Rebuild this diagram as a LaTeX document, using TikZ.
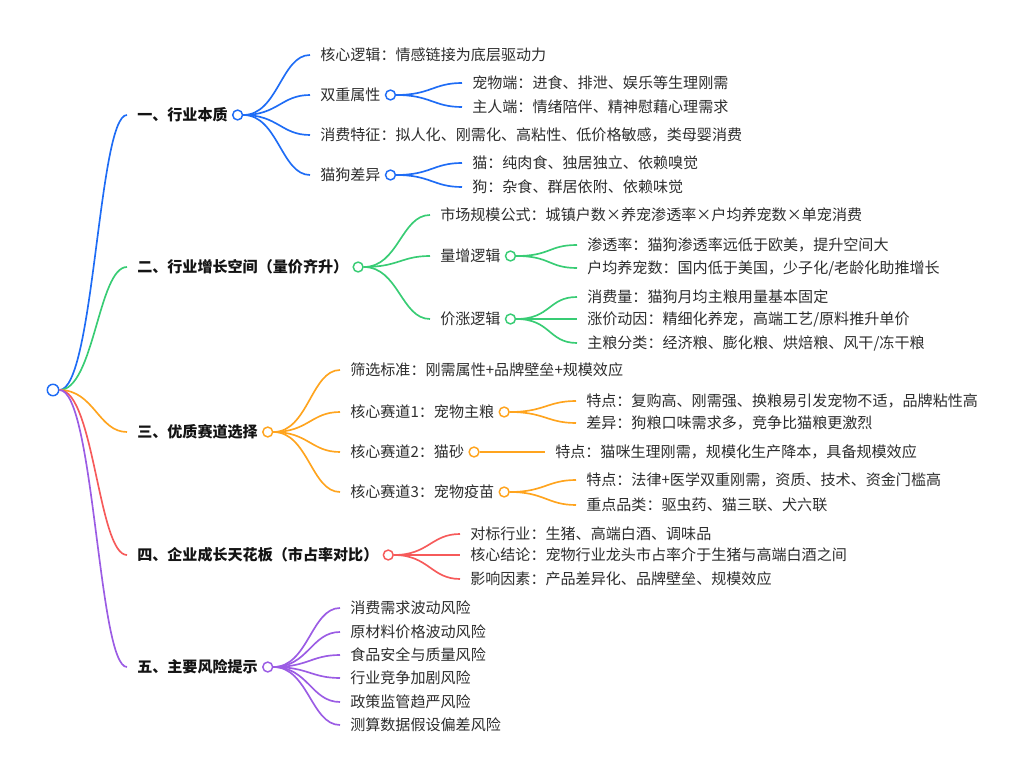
\documentclass[tikz,border=0pt]{standalone}
\usepackage{fontspec}
\setmainfont{Noto Sans CJK SC}
\usetikzlibrary{positioning}

\definecolor{cblue}{RGB}{30,108,245}
\definecolor{cgreen}{RGB}{56,204,116}
\definecolor{corange}{RGB}{255,164,30}
\definecolor{cred}{RGB}{246,90,90}
\definecolor{cpurple}{RGB}{155,92,228}
\definecolor{ink}{RGB}{45,45,45}

\begin{document}
\begin{tikzpicture}[
    x=0.75pt, y=-0.75pt,
    font=\fontsize{11.3pt}{13pt}\selectfont,
    txt/.style={anchor=west, inner xsep=3pt, inner ysep=2pt, text=ink},
    head/.style={txt, font=\fontsize{11.3pt}{13pt}\selectfont\bfseries, text=black!92},
    dot/.style={circle, draw=#1, fill=white, line width=1.1pt, minimum size=7.4pt, inner sep=0pt},
    link/.style={draw=#1, line width=1.25pt, shorten >=4.5pt,
        to path={.. controls ([xshift=26pt]\tikztostart) and ([xshift=-26pt]\tikztotarget) .. (\tikztotarget)}},
]
\useasboundingbox (0,0) rectangle (1024,780);

% root
\node[dot=cblue, minimum size=8.6pt] (root) at (53,390) {};

% level 1
\node[head] (h1) at (133,115) {一、行业本质};
\node[dot=cblue, right=0pt of h1] (d1) {};
\node[head] (h2) at (133,267) {二、行业增长空间（量价齐升）};
\node[dot=cgreen, right=0pt of h2] (d2) {};
\node[head] (h3) at (133,432) {三、优质赛道选择};
\node[dot=corange, right=0pt of h3] (d3) {};
\node[head] (h4) at (133,555) {四、企业成长天花板（市占率对比）};
\node[dot=cred, right=0pt of h4] (d4) {};
\node[head] (h5) at (133,667) {五、主要风险提示};
\node[dot=cpurple, right=0pt of h5] (d5) {};

% 一
\node[txt] (a1) at (316,55) {核心逻辑：情感链接为底层驱动力};
\node[txt] (a2) at (316,95) {双重属性};
\node[dot=cblue, right=0pt of a2] (a2d) {};
\node[txt] (a3) at (316,135) {消费特征：拟人化、刚需化、高粘性、低价格敏感，类母婴消费};
\node[txt] (a4) at (316,175) {猫狗差异};
\node[dot=cblue, right=0pt of a4] (a4d) {};
\node[txt] (a21) at (468,83) {宠物端：进食、排泄、娱乐等生理刚需};
\node[txt] (a22) at (468,107) {主人端：情绪陪伴、精神慰藉心理需求};
\node[txt] (a41) at (468,163) {猫：纯肉食、独居独立、依赖嗅觉};
\node[txt] (a42) at (468,187) {狗：杂食、群居依附、依赖味觉};

% 二
\node[txt] (b1) at (436,215) {市场规模公式：城镇户数×养宠渗透率×户均养宠数×单宠消费};
\node[txt] (b2) at (436,256) {量增逻辑};
\node[dot=cgreen, right=0pt of b2] (b2d) {};
\node[txt] (b3) at (436,319) {价涨逻辑};
\node[dot=cgreen, right=0pt of b3] (b3d) {};
\node[txt] (b21) at (583,245) {渗透率：猫狗渗透率远低于欧美，提升空间大};
\node[txt] (b22) at (583,268) {户均养宠数：国内低于美国，少子化/老龄化助推增长};
\node[txt] (b31) at (583,297) {消费量：猫狗月均主粮用量基本固定};
\node[txt] (b32) at (583,319) {涨价动因：精细化养宠，高端工艺/原料推升单价};
\node[txt] (b33) at (583,343) {主粮分类：经济粮、膨化粮、烘焙粮、风干/冻干粮};

% 三
\node[txt] (c1) at (346,370) {筛选标准：刚需属性+品牌壁垒+规模效应};
\node[txt] (c2) at (346,412) {核心赛道1：宠物主粮};
\node[dot=corange, right=0pt of c2] (c2d) {};
\node[txt] (c3) at (346,452) {核心赛道2：猫砂};
\node[dot=corange, right=0pt of c3] (c3d) {};
\node[txt] (c4) at (346,492) {核心赛道3：宠物疫苗};
\node[dot=corange, right=0pt of c4] (c4d) {};
\node[txt] (c21) at (582,401) {特点：复购高、刚需强、换粮易引发宠物不适，品牌粘性高};
\node[txt] (c22) at (582,423) {差异：狗粮口味需求多，竞争比猫粮更激烈};
\node[txt] (c31) at (551,452) {特点：猫咪生理刚需，规模化生产降本，具备规模效应};
\node[txt] (c41) at (582,480) {特点：法律+医学双重刚需，资质、技术、资金门槛高};
\node[txt] (c42) at (582,505) {重点品类：驱虫药、猫三联、犬六联};

% 四
\node[txt] (e1) at (466,534) {对标行业：生猪、高端白酒、调味品};
\node[txt] (e2) at (466,555) {核心结论：宠物行业龙头市占率介于生猪与高端白酒之间};
\node[txt] (e3) at (466,579) {影响因素：产品差异化、品牌壁垒、规模效应};

% 五
\node[txt] (f1) at (346,608) {消费需求波动风险};
\node[txt] (f2) at (346,632) {原材料价格波动风险};
\node[txt] (f3) at (346,655) {食品安全与质量风险};
\node[txt] (f4) at (346,678) {行业竞争加剧风险};
\node[txt] (f5) at (346,702) {政策监管趋严风险};
\node[txt] (f6) at (346,725) {测算数据假设偏差风险};

% connectors
\draw[link=cblue] (root.east) to (h1.west);
\draw[link=cgreen] (root.east) to (h2.west);
\draw[link=corange] (root.east) to (h3.west);
\draw[link=cred] (root.east) to (h4.west);
\draw[link=cpurple] (root.east) to (h5.west);

\draw[link=cblue] (d1.east) to (a1.west);
\draw[link=cblue] (d1.east) to (a2.west);
\draw[link=cblue] (d1.east) to (a3.west);
\draw[link=cblue] (d1.east) to (a4.west);
\draw[link=cblue] (a2d.east) to (a21.west);
\draw[link=cblue] (a2d.east) to (a22.west);
\draw[link=cblue] (a4d.east) to (a41.west);
\draw[link=cblue] (a4d.east) to (a42.west);

\draw[link=cgreen] (d2.east) to (b1.west);
\draw[link=cgreen] (d2.east) to (b2.west);
\draw[link=cgreen] (d2.east) to (b3.west);
\draw[link=cgreen] (b2d.east) to (b21.west);
\draw[link=cgreen] (b2d.east) to (b22.west);
\draw[link=cgreen] (b3d.east) to (b31.west);
\draw[link=cgreen] (b3d.east) to (b32.west);
\draw[link=cgreen] (b3d.east) to (b33.west);

\draw[link=corange] (d3.east) to (c1.west);
\draw[link=corange] (d3.east) to (c2.west);
\draw[link=corange] (d3.east) to (c3.west);
\draw[link=corange] (d3.east) to (c4.west);
\draw[link=corange] (c2d.east) to (c21.west);
\draw[link=corange] (c2d.east) to (c22.west);
\draw[link=corange] (c3d.east) to (c31.west);
\draw[link=corange] (c4d.east) to (c41.west);
\draw[link=corange] (c4d.east) to (c42.west);

\draw[link=cred] (d4.east) to (e1.west);
\draw[link=cred] (d4.east) to (e2.west);
\draw[link=cred] (d4.east) to (e3.west);

\draw[link=cpurple] (d5.east) to (f1.west);
\draw[link=cpurple] (d5.east) to (f2.west);
\draw[link=cpurple] (d5.east) to (f3.west);
\draw[link=cpurple] (d5.east) to (f4.west);
\draw[link=cpurple] (d5.east) to (f5.west);
\draw[link=cpurple] (d5.east) to (f6.west);
\end{tikzpicture}
\end{document}
